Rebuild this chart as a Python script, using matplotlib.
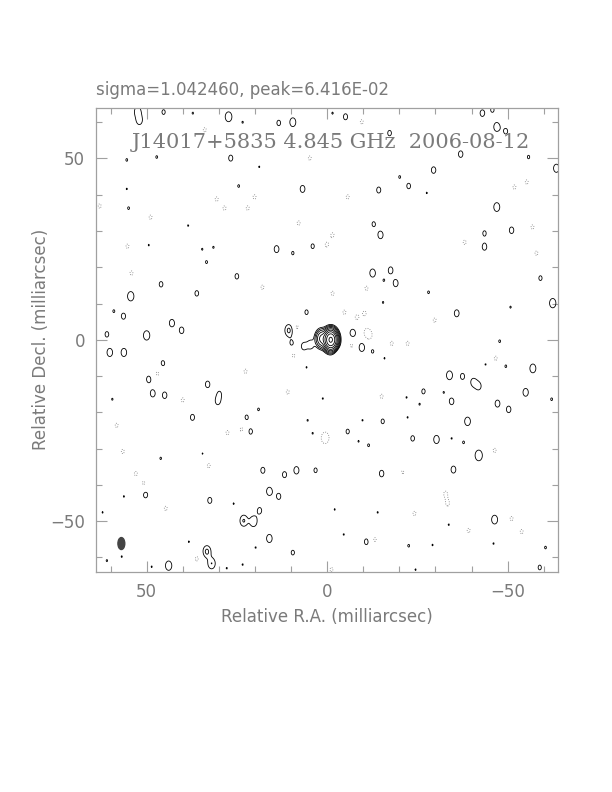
import numpy as np
import matplotlib
matplotlib.use("Agg")
import matplotlib.pyplot as plt
from matplotlib.patches import Ellipse
from matplotlib.ticker import MultipleLocator

# map header values
source = "J14017+5835"
freq = "4.845 GHz"
date = "2006-08-12"
sigma_txt = "sigma=1.042460, peak=6.416E-02"

peak = 64.16          # mJy/beam
base = 0.2            # lowest contour, mJy/beam
beam_maj = 3.3        # mas (drawn ellipse)
beam_min = 1.9
beam_pos = (57.0, -56.2)

# central source components: ra, dec, amp (mJy)
core = [(-1.0, 0.0, 60.0), (1.5, 0.3, 4.0), (4.5, -1.3, 0.30), (6.5, -1.8, 0.26)]

# noise peaks: ra, dec, amp in units of the lowest contour
blobs_ne = [(52.5, 63.0, 1.6), (52.0, 60.5, 1.5), (45.3, 62.8, 1.15), (37.2, 62.5, 1.03),
            (27.3, 61.5, 1.8), (23.4, 60.0, 1.03), (13.4, 59.8, 1.2), (9.5, 60.0, 1.6),
            (55.5, 49.6, 1.05), (47.2, 50.4, 1.05), (26.7, 50.1, 1.25), (24.5, 42.4, 1.05),
            (6.8, 41.6, 1.35), (55.0, 36.3, 1.05), (14.0, 25.0, 1.35), (9.5, 23.9, 1.08),
            (4.0, 25.8, 1.15), (33.4, 21.4, 1.05), (25.0, 17.5, 1.2), (46.0, 15.3, 1.2),
            (54.4, 12.0, 1.7), (36.1, 12.8, 1.2), (59.1, 7.9, 1.05), (56.4, 6.5, 1.25),
            (43.0, 4.6, 1.4), (40.3, 2.6, 1.3), (5.7, 7.6, 1.15), (10.6, 2.6, 2.3),
            (61.0, 1.5, 1.2), (50.0, 1.2, 1.7), (38.5, 31.5, 1.02), (49.4, 26.1, 1.02),
            (34.6, 25.0, 1.02), (31.5, 25.5, 1.03), (18.8, 47.7, 1.02), (55.5, 41.6, 1.02)]

blobs_nw = [(-1.5, 62.5, 1.03), (-5.1, 61.5, 1.25), (-17.3, 57.0, 1.2), (-43.0, 62.5, 1.3),
            (-45.8, 63.4, 1.15), (-47.0, 58.7, 1.6), (-49.5, 57.5, 1.2), (-37.0, 51.2, 1.3),
            (-55.8, 50.4, 1.08), (-63.5, 47.3, 1.5), (-29.5, 46.8, 1.3), (-20.1, 44.9, 1.05),
            (-22.6, 42.4, 1.2), (-14.3, 41.3, 1.25), (-47.0, 36.6, 1.6), (-12.9, 31.9, 1.15),
            (-14.8, 28.9, 1.4), (-43.6, 29.4, 1.15), (-51.1, 30.2, 1.3), (-43.6, 25.6, 1.3),
            (-12.6, 18.4, 1.5), (-17.6, 19.2, 1.3), (-15.7, 16.4, 1.03), (-19.0, 15.6, 1.35),
            (-28.1, 13.1, 1.05), (-59.1, 17.0, 1.15), (-62.5, 10.1, 1.7), (-35.9, 7.3, 1.35),
            (-7.1, 1.8, 1.5), (-15.5, 10.3, 1.03), (-50.8, 9.0, 1.03), (-27.6, 40.5, 1.02)]

blobs_sw = [(60.2, -3.5, 1.5), (56.3, -3.5, 1.5), (9.8, -1.0, 1.15), (45.5, -6.5, 1.2),
            (49.4, -10.9, 1.3), (33.1, -12.3, 1.3), (48.3, -14.8, 1.35), (45.0, -15.3, 1.3),
            (30.3, -17.0, 1.25), (19.0, -19.2, 1.05), (37.3, -21.4, 1.25), (22.3, -21.4, 1.15),
            (21.2, -25.3, 1.2), (17.8, -36.0, 1.25), (11.8, -37.2, 1.25), (8.5, -36.0, 1.4),
            (3.2, -36.0, 1.15), (50.3, -42.7, 1.3), (16.0, -41.8, 1.5), (13.4, -43.2, 1.25),
            (32.5, -44.3, 1.25), (18.7, -47.1, 1.25), (23.1, -49.9, 2.1), (20.4, -50.1, 1.9),
            (16.0, -54.8, 1.5), (9.5, -58.7, 1.15), (33.3, -58.4, 2.3), (32.0, -61.7, 2.0),
            (43.9, -62.3, 1.7), (59.5, -16.4, 1.03), (46.1, -32.7, 1.04), (56.3, -43.2, 1.02),
            (62.2, -47.6, 1.02), (29.8, -14.8, 1.03), (5.7, -7.6, 1.02), (5.4, -22.2, 1.02),
            (4.0, -25.8, 1.02), (25.9, -45.2, 1.02), (38.3, -55.7, 1.02), (19.8, -57.3, 1.02),
            (61.0, -60.9, 1.03), (23.4, -62.0, 1.02), (27.8, -63.0, 1.02), (48.6, -62.6, 1.02),
            (34.5, -31.4, 1.02), (56.9, -59.8, 1.02)]

blobs_se = [(-9.6, -2.1, 1.5), (-12.6, -3.2, 1.08), (-47.8, -0.4, 1.05), (-49.5, -7.3, 1.05),
            (-57.0, -7.9, 1.6), (-33.9, -9.8, 1.6), (-37.5, -10.1, 1.25), (-40.5, -11.7, 1.35),
            (-42.0, -12.8, 1.3), (-55.0, -14.5, 1.45), (-26.7, -14.2, 1.15), (-34.5, -17.0, 1.3),
            (-47.2, -17.6, 1.35), (-50.3, -19.2, 1.3), (-62.2, -16.4, 1.05), (-15.4, -22.5, 1.15),
            (-38.9, -22.5, 1.55), (-5.7, -25.3, 1.15), (-11.5, -29.1, 1.05), (-23.7, -27.2, 1.2),
            (-30.3, -27.5, 1.5), (-37.8, -28.3, 1.05), (-42.0, -31.9, 2.0), (-35.0, -35.8, 1.35),
            (-15.1, -36.9, 1.3), (-46.4, -49.6, 1.6), (-10.9, -55.7, 1.25), (-22.6, -56.8, 1.05),
            (-60.5, -57.3, 1.05), (-58.9, -62.8, 1.15), (-32.3, -14.5, 1.02), (-22.0, -15.9, 1.02),
            (-25.6, -17.8, 1.02), (1.2, -16.2, 1.02), (-9.8, -22.2, 1.02), (-22.3, -21.4, 1.02),
            (-8.7, -28.0, 1.02), (-34.5, -27.2, 1.02), (-19.5, -38.8, 1.02), (-2.1, -46.8, 1.02),
            (-14.0, -47.6, 1.02), (-33.7, -51.0, 1.02), (-4.6, -53.7, 1.02), (-29.2, -56.6, 1.02),
            (-46.1, -56.2, 1.02), (-24.5, -63.4, 1.02), (-43.9, -6.8, 1.02), (-15.9, -5.1, 1.02)]

# negative noise peaks (dotted contours): ra, dec
neg_ra = [33.9, 4.8, 63.0, 30.6, 28.4, 22.0, 20.1, 48.9, 7.9, 55.3, 0.1, 54.2, 17.9, 8.4,
          9.3, 47.0, 22.6, 40.0, 10.9, 58.3, 27.6, 23.7, 0.4, 56.6, 32.8, 53.0, 50.8, 44.7, 36.1,
          -9.6, -5.7, -51.9, -55.3, -56.9, -1.5, -38.1, -58.0, -10.9, -1.5, -4.8, -8.2, -10.4,
          -29.8, -10.9, -11.8, -6.8, -2.9, -17.9, -22.3, -46.7, -15.1, 0.7, -46.4, -20.9, -32.8,
          -33.4, -24.2, -51.1, -53.9, -39.2, -13.2, -1.2]
neg_dec = [57.9, 50.1, 36.9, 38.8, 36.3, 36.3, 39.4, 33.8, 32.2, 25.8, 26.2, 18.4, 14.5, 3.5,
           -4.3, -9.3, -8.7, -16.6, -14.4, -23.6, -25.6, -24.7, -26.9, -30.8, -34.7, -36.9, -39.6,
           -46.5, -60.4, 60.1, 39.4, 42.1, 43.5, 31.1, 28.9, 26.9, 23.9, 14.2, 12.8, 7.6, 6.2,
           7.3, 5.4, 2.1, 1.2, -1.5, -3.5, -1.0, -1.0, -5.1, -15.6, -27.2, -30.5, -36.6, -42.4,
           -45.2, -47.9, -49.3, -52.9, -52.6, -55.1, -63.4]
neg_amp = 1.12

# build the map on a grid
ra = np.linspace(64, -64, 640)
dec = np.linspace(-64, 64, 640)
X, Y = np.meshgrid(ra, dec)
sx, sy = 0.85, 1.25


def gauss(x0, y0, a):
    return a * np.exp(-0.5 * (((X - x0) / sx) ** 2 + ((Y - y0) / sy) ** 2))


img = np.zeros_like(X)
for x0, y0, a in core:
    img += gauss(x0, y0, a)
for blobs in [blobs_ne, blobs_nw, blobs_sw, blobs_se]:
    for x0, y0, a in blobs:
        img += gauss(x0, y0, a * base)
for x0, y0 in zip(neg_ra, neg_dec):
    img -= gauss(x0, y0, neg_amp * base)

levels = [base * 2 ** n for n in range(12) if base * 2 ** n < peak]

fig = plt.figure(figsize=(6.12, 7.92), dpi=100)
ax = fig.add_axes([0.157, 0.278, 0.755, 0.586])
ax.contour(X, Y, img, levels=levels, colors="black", linewidths=0.6)
ax.contour(X, Y, img, levels=[-base], colors="#777777", linewidths=0.6,
           linestyles=[(0, (1, 1.8))])

ax.add_patch(Ellipse(beam_pos, beam_min, beam_maj, color="#444444", zorder=3))

ax.set_xlim(64, -64)
ax.set_ylim(-64, 64)

gray = "#7a7a7a"
for s in ax.spines.values():
    s.set_color("#a0a0a0")
    s.set_linewidth(0.9)
ax.xaxis.set_major_locator(MultipleLocator(50))
ax.yaxis.set_major_locator(MultipleLocator(50))
ax.xaxis.set_minor_locator(MultipleLocator(10))
ax.yaxis.set_minor_locator(MultipleLocator(10))
ax.tick_params(which="both", direction="in", top=True, right=True, color="#a0a0a0",
               labelcolor=gray, labelsize=12)
ax.tick_params(which="major", length=8, width=0.8, pad=8)
ax.tick_params(which="minor", length=4, width=0.8)

ax.set_xlabel("Relative R.A. (milliarcsec)", color=gray, fontsize=12, labelpad=5)
ax.set_ylabel("Relative Decl. (milliarcsec)", color=gray, fontsize=12, labelpad=0)

ax.text(0.509, 0.926, f"{source} {freq}  {date}", transform=ax.transAxes,
        ha="center", va="center", fontsize=15, color=gray, family="DejaVu Serif")
fig.text(0.157, 0.886, sigma_txt, ha="left", va="center", fontsize=12, color=gray)

fig.savefig("out.png", dpi=100, facecolor="white")
